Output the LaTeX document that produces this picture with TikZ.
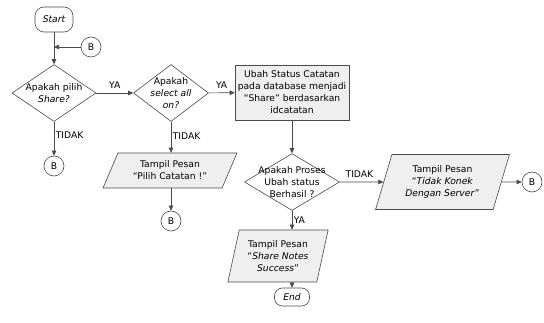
\documentclass[tikz,border=0pt]{standalone}
\usepackage{fontspec}
\setmainfont{DejaVu Sans}
\usetikzlibrary{shapes.geometric,arrows.meta}
\definecolor{ln}{HTML}{4A4A4A}
\definecolor{fl}{HTML}{EFEFEF}
\begin{document}
\begin{tikzpicture}[x=1pt,y=-1pt,
  font=\fontsize{9.2}{12}\selectfont,
  line/.style={draw=ln, line width=0.6pt},
  arr/.style={line, -{Triangle[length=5pt,width=4.5pt]}},
  term/.style={line, rounded corners=9pt, fill=white, inner sep=0pt, font=\fontsize{9.2}{12}\selectfont\itshape},
  dec/.style={line, diamond, fill=white, inner sep=0pt},
  proc/.style={line, rectangle, fill=fl, inner sep=0pt, align=center},
  io/.style={line, trapezium, trapezium stretches=true, fill=fl, inner sep=0pt, align=center},
  conn/.style={line, circle, fill=white, minimum size=20pt, inner sep=0pt},
  txt/.style={align=center, inner sep=0pt},
  lab/.style={inner sep=1.5pt},
  labup/.style={lab, above, yshift=2.5pt}]
\useasboundingbox (0,0) rectangle (544,323);

% terminals
\node[term, minimum width=38pt, minimum height=25pt] (start) at (54,19.5) {Start};
\node[term, rounded corners=8pt, minimum width=35pt, minimum height=18pt] (end) at (292,297) {End};

% connectors
\node[conn] (b1) at (91,47) {B};
\node[conn] (b2) at (54,166) {B};
\node[conn] (b3) at (171,221) {B};
\node[conn] (b4) at (532,182) {B};
\coordinate (j1) at (54,47);

% decisions
\node[dec, minimum width=84pt, minimum height=57pt] (d1) at (54,93) {};
\node[txt] (d1t) at (d1) {Apakah pilih\\\textit{Share?}};
\node[dec, minimum width=75pt, minimum height=57pt] (d2) at (171,93) {};
\node[txt] (d2t) at (d2) {Apakah\\\textit{select all}\\\textit{on?}};
\node[dec, minimum width=95pt, minimum height=57pt] (d3) at (292,182) {};
\node[txt] (d3t) at (d3) {Apakah Proses\\Ubah status\\Berhasil ?};

% process
\node[proc, minimum width=114pt, minimum height=55pt] (p1) at (292,92.5)
  {Ubah Status Catatan\\pada database menjadi\\“Share” berdasarkan\\idcatatan};

% input/output
\node[io, trapezium left angle=61, trapezium right angle=119, minimum width=134pt, minimum height=35pt] (p2) at (170,170.5)
  {Tampil Pesan\\“Pilih Catatan !”};
\node[io, trapezium left angle=70, trapezium right angle=110, minimum width=135pt, minimum height=55pt] (p3) at (442.5,182)
  {Tampil Pesan\\“\textit{Tidak Konek}\\\textit{Dengan Server}”};
\node[io, trapezium left angle=74, trapezium right angle=106, minimum width=101pt, minimum height=52pt] (p4) at (278,256)
  {Tampil Pesan\\“\textit{Share Notes}\\\textit{Success}”};

% flows
\draw[arr] (start) -- (d1);
\draw[arr] (b1) -- (j1);
\draw[arr] (d1) -- node[labup] {YA} (d2);
\draw[arr] (d1) -- node[lab, right, pos=0.4] {TIDAK} (b2);
\draw[arr] (d2) -- node[labup] {YA} (p1);
\draw[arr] (d2) -- node[lab, right, pos=0.45] {TIDAK} (d2 |- p2.north);
\draw[arr] (p2.south -| b3) -- (b3);
\draw[arr] (p1) -- (d3);
\draw[arr] (d3) -- node[labup, pos=0.45] {TIDAK} (p3);
\draw[arr] (p3) -- (b4);
\draw[arr] (d3) -- node[lab, right, pos=0.5] {YA} (d3.south |- p4.north);
\draw[arr] (end |- p4.south) -- (end);
\end{tikzpicture}
\end{document}
